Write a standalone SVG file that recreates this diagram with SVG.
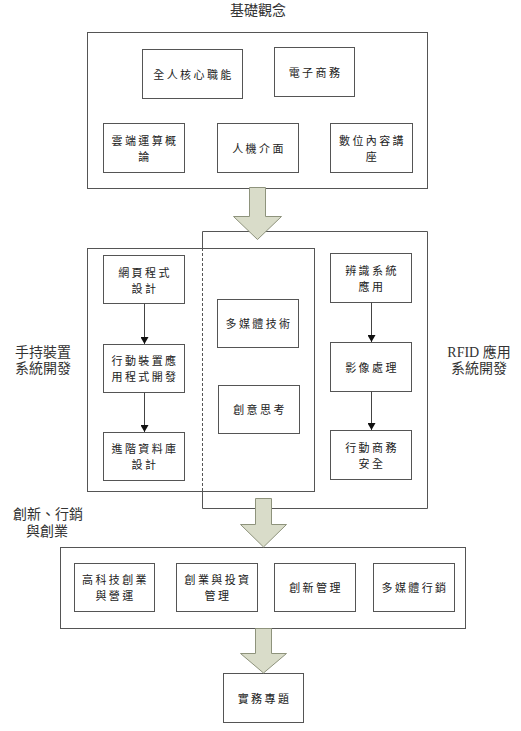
<svg xmlns="http://www.w3.org/2000/svg" width="521" height="731" viewBox="0 0 521 731">
<defs>
<style>
.box{fill:#fff;stroke:#555;stroke-width:1}
.frame{fill:none;stroke:#555;stroke-width:1}
.t{font-family:"Noto Sans CJK TC","Noto Sans CJK SC",sans-serif;font-size:11px;fill:#222;text-anchor:middle;dominant-baseline:central;letter-spacing:2.4px}
.lbl{font-family:"Liberation Serif","Noto Sans CJK TC",serif;font-size:14px;fill:#333;text-anchor:middle;dominant-baseline:central}
.big{fill:#d9dcc9;stroke:#8e937c;stroke-width:1}
.con{stroke:#444;stroke-width:1;fill:none}
</style>
<marker id="ah" markerWidth="8" markerHeight="8" refX="7" refY="4" orient="auto" markerUnits="userSpaceOnUse">
<path d="M0,0 L7,4 L0,8 Z" fill="#111"/>
</marker>
</defs>
<rect width="521" height="731" fill="#fff"/>

<g id="group-basic">
<text class="lbl" x="258" y="10">基礎觀念</text>
<rect class="frame" x="87.5" y="32.5" width="340" height="156"/>
</g>
<g id="n-quanren"><rect class="box" x="142.5" y="49.5" width="100" height="49"/><text class="t" x="193.5" y="74">全人核心職能</text></g>
<g id="n-ecommerce"><rect class="box" x="274.5" y="47.5" width="80" height="49"/><text class="t" x="315.5" y="72">電子商務</text></g>
<g id="n-cloud"><rect class="box" x="103.5" y="123.5" width="81" height="49"/><text class="t" x="145" y="140">雲端運算概</text><text class="t" x="145" y="156">論</text></g>
<g id="n-hci"><rect class="box" x="217.5" y="123.5" width="81" height="49"/><text class="t" x="259" y="148">人機介面</text></g>
<g id="n-digital"><rect class="box" x="330.5" y="123.5" width="82" height="49"/><text class="t" x="372.5" y="140">數位內容講</text><text class="t" x="372.5" y="156">座</text></g>

<g id="group-rfid">
<path class="frame" d="M202.5,248 L202.5,231.5 L427.5,231.5 L427.5,508.5 L202.5,508.5 L202.5,491"/>
<path class="frame" d="M202.5,248 L202.5,491" stroke-dasharray="3,2"/>
<text class="lbl" x="479" y="352">RFID 應用</text>
<text class="lbl" x="479" y="368">系統開發</text>
</g>
<g id="group-handheld">
<rect class="frame" x="87.5" y="248.5" width="227" height="243"/>
<text class="lbl" x="43" y="352">手持裝置</text>
<text class="lbl" x="43" y="368">系統開發</text>
</g>

<g id="n-web"><rect class="box" x="103.5" y="255.5" width="81" height="48"/><text class="t" x="145" y="272">網頁程式</text><text class="t" x="145" y="288">設計</text></g>
<g id="n-mobileapp"><rect class="box" x="103.5" y="344.5" width="81" height="48"/><text class="t" x="145" y="360">行動裝置應</text><text class="t" x="145" y="376">用程式開發</text></g>
<g id="n-db"><rect class="box" x="103.5" y="432.5" width="81" height="48"/><text class="t" x="145" y="448">進階資料庫</text><text class="t" x="145" y="464">設計</text></g>
<g id="n-multimedia"><rect class="box" x="217.5" y="299.5" width="81" height="48"/><text class="t" x="259" y="323">多媒體技術</text></g>
<g id="n-creative"><rect class="box" x="218.5" y="385.5" width="81" height="48"/><text class="t" x="260" y="409">創意思考</text></g>
<g id="n-rfidapp"><rect class="box" x="330.5" y="253.5" width="81" height="49"/><text class="t" x="372" y="270">辨識系統</text><text class="t" x="372" y="286">應用</text></g>
<g id="n-image"><rect class="box" x="330.5" y="342.5" width="81" height="49"/><text class="t" x="372" y="366.5">影像處理</text></g>
<g id="n-mobilesec"><rect class="box" x="330.5" y="430.5" width="81" height="49"/><text class="t" x="372" y="447">行動商務</text><text class="t" x="372" y="463">安全</text></g>

<g id="group-innovation">
<text class="lbl" x="48" y="514">創新、行銷</text>
<text class="lbl" x="47" y="531">與創業</text>
<rect class="frame" x="60.5" y="547.5" width="405" height="81"/>
</g>
<g id="n-hightech"><rect class="box" x="74.5" y="563.5" width="80" height="48"/><text class="t" x="115.5" y="579">高科技創業</text><text class="t" x="115.5" y="595">與營運</text></g>
<g id="n-invest"><rect class="box" x="176.5" y="563.5" width="81" height="48"/><text class="t" x="218" y="579">創業與投資</text><text class="t" x="218" y="595">管理</text></g>
<g id="n-innovmgmt"><rect class="box" x="274.5" y="563.5" width="81" height="48"/><text class="t" x="316" y="587">創新管理</text></g>
<g id="n-mmmarketing"><rect class="box" x="373.5" y="563.5" width="81" height="48"/><text class="t" x="415" y="587">多媒體行銷</text></g>

<g id="n-project"><rect class="box" x="223.5" y="673.5" width="80" height="49"/><text class="t" x="264.5" y="698">實務專題</text></g>

<g id="connectors">
<path class="big" d="M249.5,187.5 L265.5,187.5 L265.5,216.5 L281.5,216.5 L257.5,239.5 L233.5,216.5 L249.5,216.5 Z"/>
<path class="big" d="M255.5,498.5 L271.5,498.5 L271.5,524.5 L286.5,524.5 L263.5,547 L240.5,524.5 L255.5,524.5 Z"/>
<path class="big" d="M255.5,628.5 L271.5,628.5 L271.5,653.5 L286.5,653.5 L263.5,673 L240.5,653.5 L255.5,653.5 Z"/>
<line class="con" x1="144.5" y1="303.5" x2="144.5" y2="344" marker-end="url(#ah)"/>
<line class="con" x1="144.5" y1="392.5" x2="144.5" y2="432" marker-end="url(#ah)"/>
<line class="con" x1="371.5" y1="302.5" x2="371.5" y2="342" marker-end="url(#ah)"/>
<line class="con" x1="371.5" y1="391.5" x2="371.5" y2="430" marker-end="url(#ah)"/>
</g>
</svg>
